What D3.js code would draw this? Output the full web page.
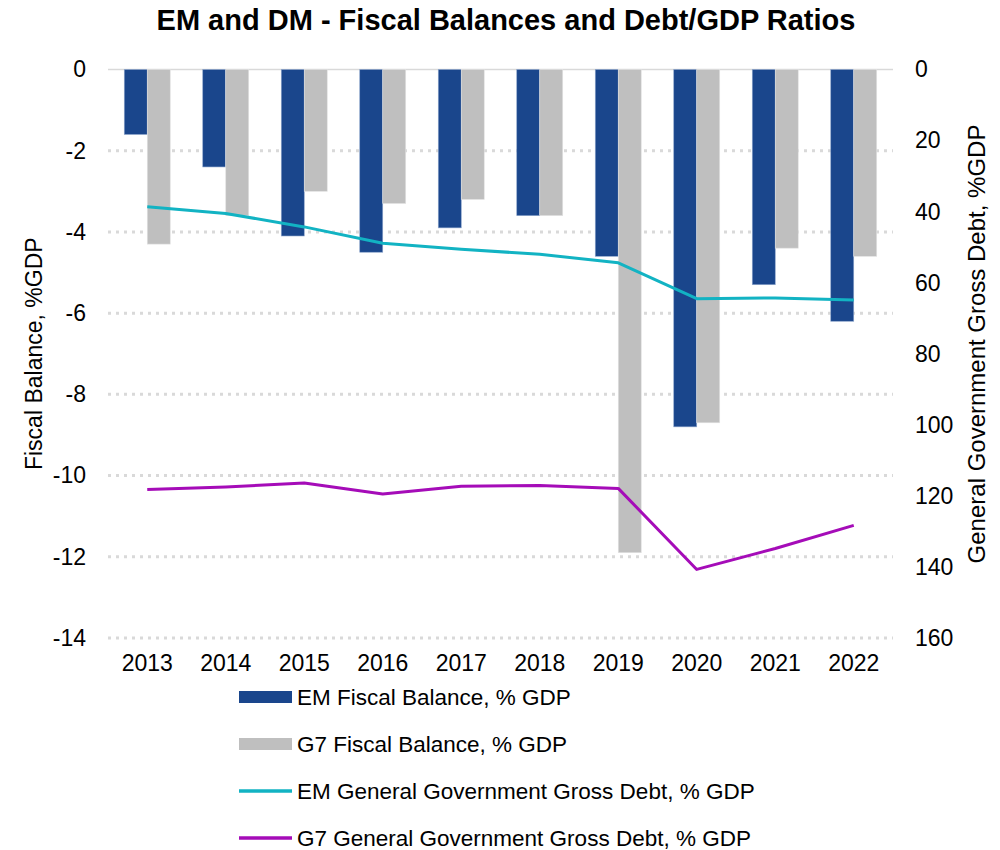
<!DOCTYPE html>
<html>
<head>
<meta charset="utf-8">
<script src="https://cdn.jsdelivr.net/npm/d3@7"></script>
<style>
	body { margin: 0; background: #fff; font-family: "Liberation Sans", Arial, sans-serif; }
	.grid line { stroke: #d9d9d9; stroke-width: 3; stroke-dasharray: 3 5; }
	.axis text { font-size: 23px; fill: #000; font-family: "Liberation Sans", Arial, sans-serif; }
</style>
</head>
<body>
<div id="container"></div>
<script>
var years = ["2013", "2014", "2015", "2016", "2017", "2018", "2019", "2020", "2021", "2022"];
var emFiscal = [-1.6, -2.4, -4.1, -4.5, -3.9, -3.6, -4.6, -8.8, -5.3, -6.2];
var g7Fiscal = [-4.3, -3.6, -3.0, -3.3, -3.2, -3.6, -11.9, -8.7, -4.4, -4.6];
var emDebt = [38.6, 40.5, 44.3, 48.9, 50.6, 52.0, 54.4, 64.5, 64.3, 64.9];
var g7Debt = [118.2, 117.5, 116.4, 119.5, 117.3, 117.1, 117.9, 140.7, 134.8, 128.3];
var leftTicks = [0, -2, -4, -6, -8, -10, -12, -14];
var rightTicks = [0, 20, 40, 60, 80, 100, 120, 140, 160];

var seriesNames = [
	"EM Fiscal Balance, % GDP",
	"G7 Fiscal Balance, % GDP",
	"EM General Government Gross Debt, % GDP",
	"G7 General Government Gross Debt, % GDP"
];
var colors = ["#1a468c", "#bfbfbf", "#12b3c3", "#a50cb8"];

var width = 1000, height = 850;
var margin = {top: 69.5, left: 108, right: 107, bottom: 212};
var plotW = width - margin.left - margin.right,
	plotH = height - margin.top - margin.bottom;

var svg = d3.select("#container")
	.append("svg")
	.attr("width", width)
	.attr("height", height);

// scales
var x0 = d3.scaleBand().domain(years).range([0, plotW])
	.paddingInner(0.414).paddingOuter(0.207);
var x1 = d3.scaleBand().domain(["em", "g7"]).range([0, x0.bandwidth()]);
var yL = d3.scaleLinear().domain([0, -14]).range([0, plotH]);
var yR = d3.scaleLinear().domain([0, 160]).range([0, plotH]);

var plot = svg.append("g")
	.attr("transform", "translate(" + margin.left + "," + margin.top + ")");

// grid
plot.append("g")
	.attr("class", "grid")
	.selectAll("line")
	.data(leftTicks.filter(function(d) { return d !== 0; }))
	.enter().append("line")
	.attr("x1", 0).attr("x2", plotW)
	.attr("y1", function(d) { return yL(d); })
	.attr("y2", function(d) { return yL(d); });

plot.append("line")
	.attr("x1", 0).attr("x2", plotW)
	.attr("y1", yL(0)).attr("y2", yL(0))
	.attr("stroke", "#d9d9d9").attr("stroke-width", 1.5);

// bars
var barData = [];
years.forEach(function(y, i) {
	barData.push({year: y, key: "em", v: emFiscal[i], c: colors[0]});
	barData.push({year: y, key: "g7", v: g7Fiscal[i], c: colors[1]});
});

plot.append("g").selectAll("rect")
	.data(barData)
	.enter().append("rect")
	.attr("x", function(d) { return x0(d.year) + x1(d.key); })
	.attr("width", x1.bandwidth())
	.attr("y", yL(0))
	.attr("height", function(d) { return yL(d.v) - yL(0); })
	.attr("fill", function(d) { return d.c; })
	.attr("stroke", function(d) { return d.key === "em" ? "#8ea6cc" : "#e3e3e3"; })
	.attr("stroke-width", 0.6);

// lines
var line = d3.line()
	.x(function(d, i) { return x0(years[i]) + x0.bandwidth() / 2; })
	.y(function(d) { return yR(d); });

plot.append("path")
	.datum(emDebt)
	.attr("fill", "none")
	.attr("stroke", colors[2])
	.attr("stroke-width", 3)
	.attr("stroke-linejoin", "round")
	.attr("d", line);

plot.append("path")
	.datum(g7Debt)
	.attr("fill", "none")
	.attr("stroke", colors[3])
	.attr("stroke-width", 3)
	.attr("stroke-linejoin", "round")
	.attr("d", line);

// axes
var leftAxis = plot.append("g")
	.attr("class", "axis")
	.attr("transform", "translate(-22,0)")
	.call(d3.axisLeft(yL).tickValues(leftTicks).tickSize(0).tickPadding(0));
leftAxis.select(".domain").remove();
leftAxis.selectAll("text").text(function(d) { return d < 0 ? "-" + Math.abs(d) : d; });

var rightAxis = plot.append("g")
	.attr("class", "axis")
	.attr("transform", "translate(" + (plotW + 22) + ",0)")
	.call(d3.axisRight(yR).tickValues(rightTicks).tickSize(0).tickPadding(0));
rightAxis.select(".domain").remove();

var xAxis = plot.append("g")
	.attr("class", "axis")
	.attr("transform", "translate(0," + (plotH + 17) + ")")
	.call(d3.axisBottom(x0).tickSize(0).tickPadding(0));
xAxis.select(".domain").remove();

// axis titles
svg.append("text")
	.attr("transform", "translate(42," + (margin.top + plotH / 2) + ") rotate(-90)")
	.attr("text-anchor", "middle")
	.attr("font-size", 23)
	.text("Fiscal Balance, %GDP");

svg.append("text")
	.attr("transform", "translate(985,344) rotate(-90)")
	.attr("text-anchor", "middle")
	.attr("font-size", 24)
	.text("General Government Gross Debt, %GDP");

// title
svg.append("text")
	.attr("x", 506)
	.attr("y", 30)
	.attr("text-anchor", "middle")
	.attr("font-size", 29)
	.attr("font-weight", "bold")
	.text("EM and DM - Fiscal Balances and Debt/GDP Ratios");

// legend
var legend = svg.append("g").attr("transform", "translate(239,697)");
seriesNames.forEach(function(name, i) {
	var row = legend.append("g").attr("transform", "translate(0," + (i * 47) + ")");
	if (i < 2) {
		row.append("rect")
			.attr("x", 0).attr("y", -6)
			.attr("width", 53).attr("height", 12)
			.attr("fill", colors[i]);
	} else {
		row.append("line")
			.attr("x1", 0).attr("x2", 53)
			.attr("stroke", colors[i])
			.attr("stroke-width", 3.5);
	}
	row.append("text")
		.attr("x", 58)
		.attr("dy", "0.35em")
		.attr("font-size", 22.5)
		.text(name);
});
</script>
</body>
</html>
